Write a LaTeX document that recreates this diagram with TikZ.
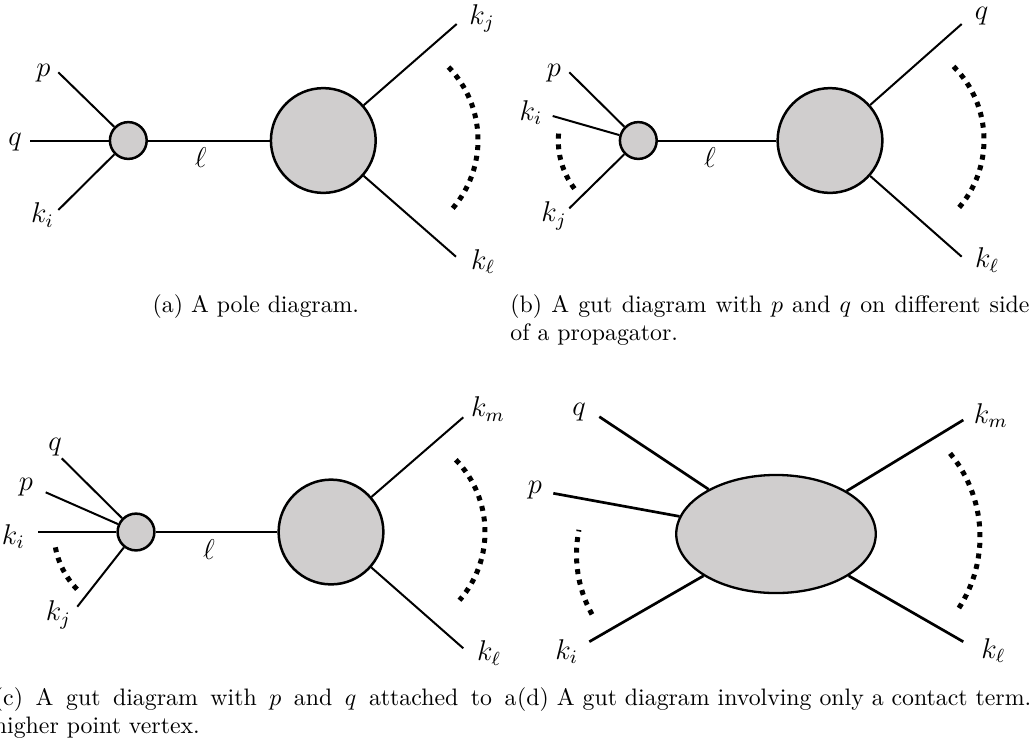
\documentclass[tikz,border=0pt]{standalone}
\usetikzlibrary{shapes.geometric}
\definecolor{gr}{HTML}{D0CECE}
\begin{document}
\begin{tikzpicture}[x=0.42pt,y=-0.42pt,
  ln/.style={line width=0.84pt},
  thln/.style={line width=1.13pt},
  svtx/.style={circle,draw,fill=gr,line width=1.05pt,inner sep=0pt,minimum size=15.45pt},
  bvtx/.style={circle,draw,fill=gr,line width=1.05pt,inner sep=0pt,minimum size=44pt},
  evtx/.style={ellipse,draw,fill=gr,line width=0.97pt,inner sep=0pt,minimum width=83.8pt,minimum height=49.6pt},
  dotarc/.style={line width=2.1pt,dash pattern=on 2.1pt off 2.4pt},
  lbl/.style={inner sep=0pt,font=\fontsize{11.5}{13}\selectfont},
  captxt/.style={inner sep=0pt,font=\normalsize}]
\useasboundingbox (0,0) rectangle (1031,747);
\fill[white] (0,0) rectangle (1031,747);

% ---------- (a) ----------
\node[svtx] (a1) at (128.3,140.5) {};
\node[bvtx] (a2) at (323.3,140.5) {};
\coordinate (ap) at (58.3,72.3);
\coordinate (aq) at (30,140.5);
\coordinate (aki) at (58.3,210);
\coordinate (akj) at (456.7,24);
\coordinate (akl) at (456,256.7);
\draw[ln] (a1) -- (ap);
\draw[ln] (a1) -- (aq);
\draw[ln] (a1) -- (aki);
\draw[ln] (a1) -- (a2);
\draw[ln] (a2) -- (akj);
\draw[ln] (a2) -- (akl);
\draw[dotarc] (373,140) ++(-44:105) arc[start angle=-44,end angle=41,radius=105];
\node[lbl] (lap) at (43.3,73) {$p$};
\node[lbl] (laq) at (15,142) {$q$};
\node[lbl] (laki) at (42.5,215) {$k_i$};
\node[lbl] (lal) at (200.8,157.5) {$\ell$};
\node[lbl] (lakj) at (482,18.7) {$k_j$};
\node[lbl] (lakl) at (483,261.7) {$k_\ell$};

% ---------- (b) ----------
\node[svtx] (b1) at (638.3,140.5) {};
\node[bvtx] (b2) at (830,140.5) {};
\coordinate (bp) at (569.3,72.3);
\coordinate (bki) at (552.7,116);
\coordinate (bkj) at (569.3,208.3);
\coordinate (bq) at (961.7,24);
\coordinate (bkl) at (961.7,256.7);
\draw[ln] (b1) -- (bp);
\draw[ln] (b1) -- (bki);
\draw[ln] (b1) -- (bkj);
\draw[ln] (b1) -- (b2);
\draw[ln] (b2) -- (bq);
\draw[ln] (b2) -- (bkl);
\draw[dotarc] (638.3,140.5) ++(143:80) arc[start angle=143,end angle=185,radius=80];
\draw[dotarc] (880,140) ++(-45:104) arc[start angle=-45,end angle=42,radius=104];
\node[lbl] (lbp) at (554,73.3) {$p$};
\node[lbl] (lbki) at (531,112.5) {$k_i$};
\node[lbl] (lbkj) at (554,215.8) {$k_j$};
\node[lbl] (lbell) at (710,157.5) {$\ell$};
\node[lbl] (lbq) at (981.7,16.3) {$q$};
\node[lbl] (lbkl) at (987,260) {$k_\ell$};

% ---------- (c) ----------
\node[svtx] (c1) at (136,532) {};
\node[bvtx] (c2) at (331,532) {};
\coordinate (cq) at (61.7,458.3);
\coordinate (cp) at (45.7,492.3);
\coordinate (cki) at (38.3,532);
\coordinate (ckj) at (77.3,606.7);
\coordinate (ckm) at (463.3,417.3);
\coordinate (ckl) at (463.3,648.3);
\draw[ln] (c1) -- (cq);
\draw[ln] (c1) -- (cp);
\draw[ln] (c1) -- (cki);
\draw[ln] (c1) -- (ckj);
\draw[ln] (c1) -- (c2);
\draw[ln] (c2) -- (ckm);
\draw[ln] (c2) -- (ckl);
\draw[dotarc] (136,532.3) ++(136:82) arc[start angle=136,end angle=170,radius=82];
\draw[dotarc] (381,532) ++(-44:104) arc[start angle=-44,end angle=41,radius=104];
\node[lbl] (lcq) at (55,446.7) {$q$};
\node[lbl] (lcp) at (25.8,487.5) {$p$};
\node[lbl] (lcki) at (13.3,536.7) {$k_i$};
\node[lbl] (lckj) at (58.3,615) {$k_j$};
\node[lbl] (lcl) at (209,550) {$\ell$};
\node[lbl] (lckm) at (488,409.2) {$k_m$};
\node[lbl] (lckl) at (489,653) {$k_\ell$};

% ---------- (d) ----------
\node[evtx] (d1) at (776,534) {};
\coordinate (dq) at (599.3,416.7);
\coordinate (dp) at (553.3,493.3);
\coordinate (dki) at (589.3,641.7);
\coordinate (dkm) at (963.3,420);
\coordinate (dkl) at (963.3,641.7);
\draw[thln] (d1) -- (dq);
\draw[thln] (d1) -- (dp);
\draw[thln] (d1) -- (dki);
\draw[thln] (d1) -- (dkm);
\draw[thln] (d1) -- (dkl);
\draw[dotarc] (700,554.5) ++(151:123.5) arc[start angle=151,end angle=191.5,radius=123.5];
\draw[dotarc] (849,536.7) ++(-39.5:131) arc[start angle=-39.5,end angle=33.2,radius=131];
\node[lbl] (ldq) at (579,411.7) {$q$};
\node[lbl] (ldp) at (535,490) {$p$};
\node[lbl] (ldki) at (566.7,651.7) {$k_i$};
\node[lbl] (ldkm) at (990.8,415.8) {$k_m$};
\node[lbl] (ldkl) at (993.3,650.8) {$k_\ell$};

% ---------- captions ----------
\node[captxt,anchor=base] (capa) at (255.9,312) {(a) A pole diagram.};
\node[captxt,anchor=base west] (capb1) at (510,312) {\makebox[218pt][s]{(b) A gut diagram with $p$ and $q$ on different side}};
\node[captxt,anchor=base west] (capb2) at (510,340.5) {of a propagator.};
\node[captxt,anchor=base west] (capc1) at (-6.5,705) {\makebox[219.5pt][s]{(c) A gut diagram with $p$ and $q$ attached to a}};
\node[captxt,anchor=base west] (capc2) at (-6.5,733.5) {higher point vertex.};
\node[captxt,anchor=base west] (capd) at (516.7,705) {(d) A gut diagram involving only a contact term.};
\end{tikzpicture}
\end{document}
